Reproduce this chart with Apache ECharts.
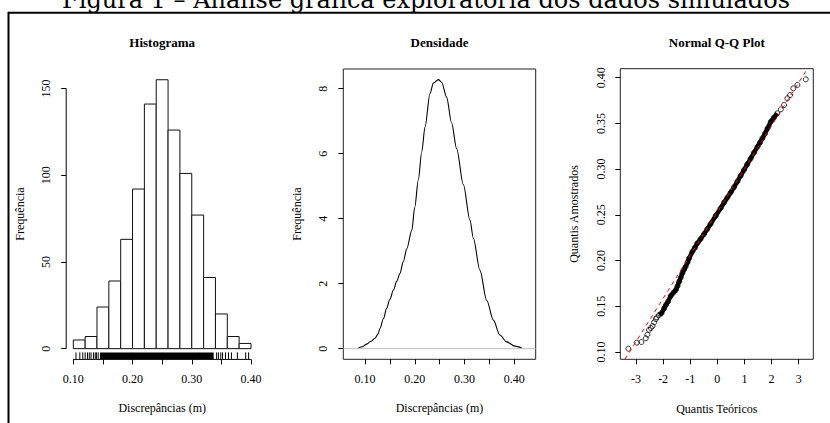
<!DOCTYPE html>
<html><head><meta charset="utf-8">
<script src="https://cdn.jsdelivr.net/npm/echarts@6/dist/echarts.min.js"></script>
<style>html,body{margin:0;padding:0;background:#fff}#c{width:830px;height:423px}</style>
</head><body><div id="c"></div>
<script>
// ---------------- data ----------------
const histBreaks = [0.10,0.12,0.14,0.16,0.18,0.20,0.22,0.24,0.26,0.28,0.30,0.32,0.34,0.36,0.38,0.40];
const histCounts = [5,7,24,39,63,92,141,155,126,101,77,41,20,7,3];
const histXTicks = [0.10,0.15,0.20,0.25,0.30,0.35,0.40];
const histXLabels = [0.10,0.20,0.30,0.40];
const histYTicks = [0,50,100,150];
const rugTicks = [0.1045,0.111,0.116,0.120,0.124,0.127,0.130,0.134,0.137,0.139,0.142,
                  0.342,0.345,0.349,0.352,0.357,0.362,0.367,0.377,0.391,0.396];
const rugBand = [0.145,0.337];

const densX = [0.0866,0.095,0.1033,0.112,0.120,0.126,0.130,0.137,0.1435,0.150,0.157,0.164,0.170,0.177,0.184,0.194,0.200,0.207,0.214,0.2206,0.2306,0.2373,0.2474,0.254,0.264,0.274,0.2842,0.2976,0.311,0.3177,0.331,0.3445,0.358,0.371,0.3847,0.401,0.415];
const densY = [0.02,0.06,0.14,0.23,0.32,0.45,0.62,0.92,1.24,1.52,1.80,2.08,2.31,2.68,3.08,3.64,4.35,5.18,6.05,6.82,7.85,8.17,8.28,8.20,7.74,6.95,6.15,5.05,3.95,3.40,2.41,1.49,0.88,0.42,0.21,0.08,0.02];
const densXTicks = [0.10,0.15,0.20,0.25,0.30,0.35,0.40];
const densXLabels = [0.10,0.20,0.30,0.40];
const densYTicks = [0,2,4,6,8];

const qqTheo = [-3.28,-2.97,-2.80,-2.64,-2.58,-2.52,-2.45,-2.39,-2.33,-2.27,-2.23,-2.15,-2.06,-1.96,-1.90,-1.82,-1.72,-1.62,-1.53,-1.47,-1.41,-1.35,-1.29,-1.23,-1.17,-1.10,-1.04,-0.92,-0.83,-0.74,-0.62,-0.49,-0.37,-0.25,-0.06,0.12,0.25,0.37,0.49,0.62,0.74,0.86,0.98,1.10,1.23,1.35,1.48,1.57,1.66,1.76,1.85,1.97,2.09,2.21,2.34,2.46,2.58,2.68,2.80,2.95,3.26];
const qqSample = [0.1036,0.1102,0.1109,0.1150,0.1190,0.1241,0.1262,0.1284,0.1325,0.1360,0.1379,0.1405,0.1423,0.1478,0.1514,0.1551,0.1613,0.1649,0.1678,0.1720,0.1770,0.1815,0.1861,0.1900,0.1934,0.1980,0.2025,0.2098,0.2140,0.2189,0.2235,0.2290,0.2345,0.2400,0.2490,0.2572,0.2635,0.2690,0.2745,0.2805,0.2865,0.2928,0.2990,0.3052,0.3117,0.3180,0.3245,0.3290,0.3336,0.3390,0.3446,0.3519,0.3566,0.3610,0.3654,0.3701,0.3774,0.3810,0.3883,0.3920,0.3982];
const qqLineX = [-3.41, 3.32];
const qqLineY = [0.092, 0.4098];
const qqXTicks = [-3,-2,-1,0,1,2,3];
const qqYTicks = [0.10,0.15,0.20,0.25,0.30,0.35,0.40];

// ---------------- layout constants ----------------
const histXR = [0.088,0.412], histYR = [-6.2,161.2];
const densXR = [0.0564,0.443], densYR = [-0.326,8.606];
const qqXR = [-3.579,3.537], qqYR = [0.092,0.4098];
const denseRange = [-2.2, 2.25];

const SERIF = "Liberation Serif, Times New Roman, serif";
const tickFont = {fontFamily: SERIF, fontSize: 12, color: '#000'};

function xAxis(grid, r, ticks, labels, fmt) {
  return {type:'value', gridIndex:grid, min:r[0], max:r[1], position:'bottom',
    axisLine:{show:false, onZero:false}, splitLine:{show:false},
    axisTick:{show:true, length:5, customValues:ticks, lineStyle:{color:'#000', width:1}},
    axisLabel:Object.assign({customValues:labels, formatter:fmt, margin:14}, tickFont)};
}
function yAxis(grid, r, ticks, fmt, margin) {
  return {type:'value', gridIndex:grid, min:r[0], max:r[1], position:'left',
    axisLine:{show:false, onZero:false}, splitLine:{show:false},
    axisTick:{show:true, length:5, customValues:ticks, lineStyle:{color:'#000', width:1}},
    axisLabel:Object.assign({customValues:ticks, formatter:fmt, rotate:90, margin:margin}, tickFont)};
}
const f2 = v => Number(v).toFixed(2);
const f0 = v => String(Math.round(v));

const gridBox = {show:true, borderColor:'#222', borderWidth:1, backgroundColor:'rgba(0,0,0,0)'};

function txt(text, x, y, opts) {
  opts = opts || {};
  return {type:'text', x:x, y:y, rotation:opts.rot || 0, silent:true,
    style:{text:text, fontFamily:opts.family || SERIF, fontSize:opts.size || 12,
      fontWeight:opts.weight || 'normal', fill:'#000',
      align:'center', verticalAlign:'middle', textAlign:'center', textVerticalAlign:'middle'}};
}

const option = {
  animation:false,
  backgroundColor:'#fff',
  grid:[
    {left:66.2, top:69, width:191.9, height:290.4, outerBoundsMode:'none'},
    Object.assign({left:343.3, top:69, width:192.4, height:290.3, outerBoundsMode:'none'}, gridBox),
    Object.assign({left:620.3, top:68.7, width:193, height:290.6, outerBoundsMode:'none'}, gridBox)
  ],
  xAxis:[
    xAxis(0, histXR, histXTicks, histXLabels, f2),
    xAxis(1, densXR, densXTicks, densXLabels, f2),
    xAxis(2, qqXR, qqXTicks, qqXTicks, f0)
  ],
  yAxis:[
    yAxis(0, histYR, histYTicks, f0, 14),
    yAxis(1, densYR, densYTicks, f0, 14),
    yAxis(2, qqYR, qqYTicks, f2, 13)
  ],
  series:[
    // histogram bars
    {type:'custom', xAxisIndex:0, yAxisIndex:0, silent:true,
      data: histCounts.map((c,i)=>[histBreaks[i], histBreaks[i+1], c]),
      renderItem:(params, api)=>{
        const p0 = api.coord([api.value(0), 0]);
        const p1 = api.coord([api.value(1), api.value(2)]);
        return {type:'rect', shape:{x:p0[0], y:p1[1], width:p1[0]-p0[0], height:p0[1]-p1[1]},
          style:{fill:'#fff', stroke:'#111', lineWidth:1}};
      }},
    // rug (individual ticks)
    {type:'custom', xAxisIndex:0, yAxisIndex:0, silent:true, clip:false,
      data: rugTicks.map(v=>[v]),
      renderItem:(params, api)=>{
        const p = api.coord([api.value(0), histYR[0]]);
        return {type:'line', shape:{x1:p[0], y1:p[1]-0.5, x2:p[0], y2:p[1]-7},
          style:{stroke:'#000', lineWidth:1}};
      }},
    // rug (dense band)
    {type:'custom', xAxisIndex:0, yAxisIndex:0, silent:true, clip:false,
      data: [rugBand],
      renderItem:(params, api)=>{
        const a = api.coord([api.value(0), histYR[0]]);
        const b = api.coord([api.value(1), histYR[0]]);
        return {type:'rect', shape:{x:a[0], y:a[1]-7, width:b[0]-a[0], height:6.5},
          style:{fill:'#000'}};
      }},
    // histogram axis lines (span of the ticks)
    {type:'line', xAxisIndex:0, yAxisIndex:0, silent:true, clip:false, symbol:'none',
      data:[[histXR[0], histYTicks[0]],[histXR[0], histYTicks[histYTicks.length-1]]],
      lineStyle:{color:'#000', width:1}},
    {type:'line', xAxisIndex:0, yAxisIndex:0, silent:true, clip:false, symbol:'none',
      data:[[histXTicks[0], histYR[0]],[histXTicks[histXTicks.length-1], histYR[0]]],
      lineStyle:{color:'#000', width:1}},
    // density curve
    {type:'line', xAxisIndex:1, yAxisIndex:1, silent:true, symbol:'none', smooth:0.3, smoothMonotone:'x',
      data: densX.map((x,i)=>[x, densY[i]]),
      lineStyle:{color:'#000', width:1.1}, z:2},
    // zero line
    {type:'line', xAxisIndex:1, yAxisIndex:1, silent:true, symbol:'none',
      data:[[densXR[0],0],[densXR[1],0]],
      lineStyle:{color:'#bebebe', width:1}, z:3},
    // QQ dense band
    {type:'line', xAxisIndex:2, yAxisIndex:2, silent:true, symbol:'none',
      data: qqTheo.map((x,i)=>[x, qqSample[i]]).filter(p=>p[0]>=denseRange[0] && p[0]<=denseRange[1]),
      lineStyle:{color:'#000', width:4.5}, z:2},
    // QQ points
    {type:'scatter', xAxisIndex:2, yAxisIndex:2, silent:true, symbol:'circle', symbolSize:5,
      data: qqTheo.map((x,i)=>[x, qqSample[i]]),
      itemStyle:{color:'rgba(0,0,0,0)', borderColor:'#000', borderWidth:1}, z:3},
    // QQ reference line
    {type:'line', xAxisIndex:2, yAxisIndex:2, silent:true, symbol:'none',
      data: qqLineX.map((x,i)=>[x, qqLineY[i]]),
      lineStyle:{color:'#ff0000', width:1, type:[4,4]}, z:4}
  ],
  graphic:[
    {type:'polyline', silent:true, shape:{points:[[8.5,423],[8.5,12.8],[830,12.8]]},
      style:{stroke:'#000', lineWidth:2, fill:null}},
    txt('Figura 1 – Análise gráfica exploratória dos dados simulados', 426, 0,
        {family:"DejaVu Serif, serif", size:24}),
    txt('Histograma', 162.2, 42.7, {size:13, weight:'bold'}),
    txt('Densidade', 439.5, 42.7, {size:13, weight:'bold'}),
    txt('Normal Q-Q Plot', 716.8, 42.7, {size:13, weight:'bold'}),
    txt('Discrepâncias (m)', 162.2, 408.3),
    txt('Discrepâncias (m)', 439.5, 408.3),
    txt('Quantis Teóricos', 716.8, 408.8),
    txt('Frequência', 19.5, 214, {rot:Math.PI/2}),
    txt('Frequência', 296.5, 214, {rot:Math.PI/2}),
    txt('Quantis Amostrados', 573.5, 214, {rot:Math.PI/2})
  ]
};
const chart = echarts.init(document.getElementById('c'), null, {renderer:'svg', width:830, height:423});
chart.setOption(option);
</script>
</body></html>
